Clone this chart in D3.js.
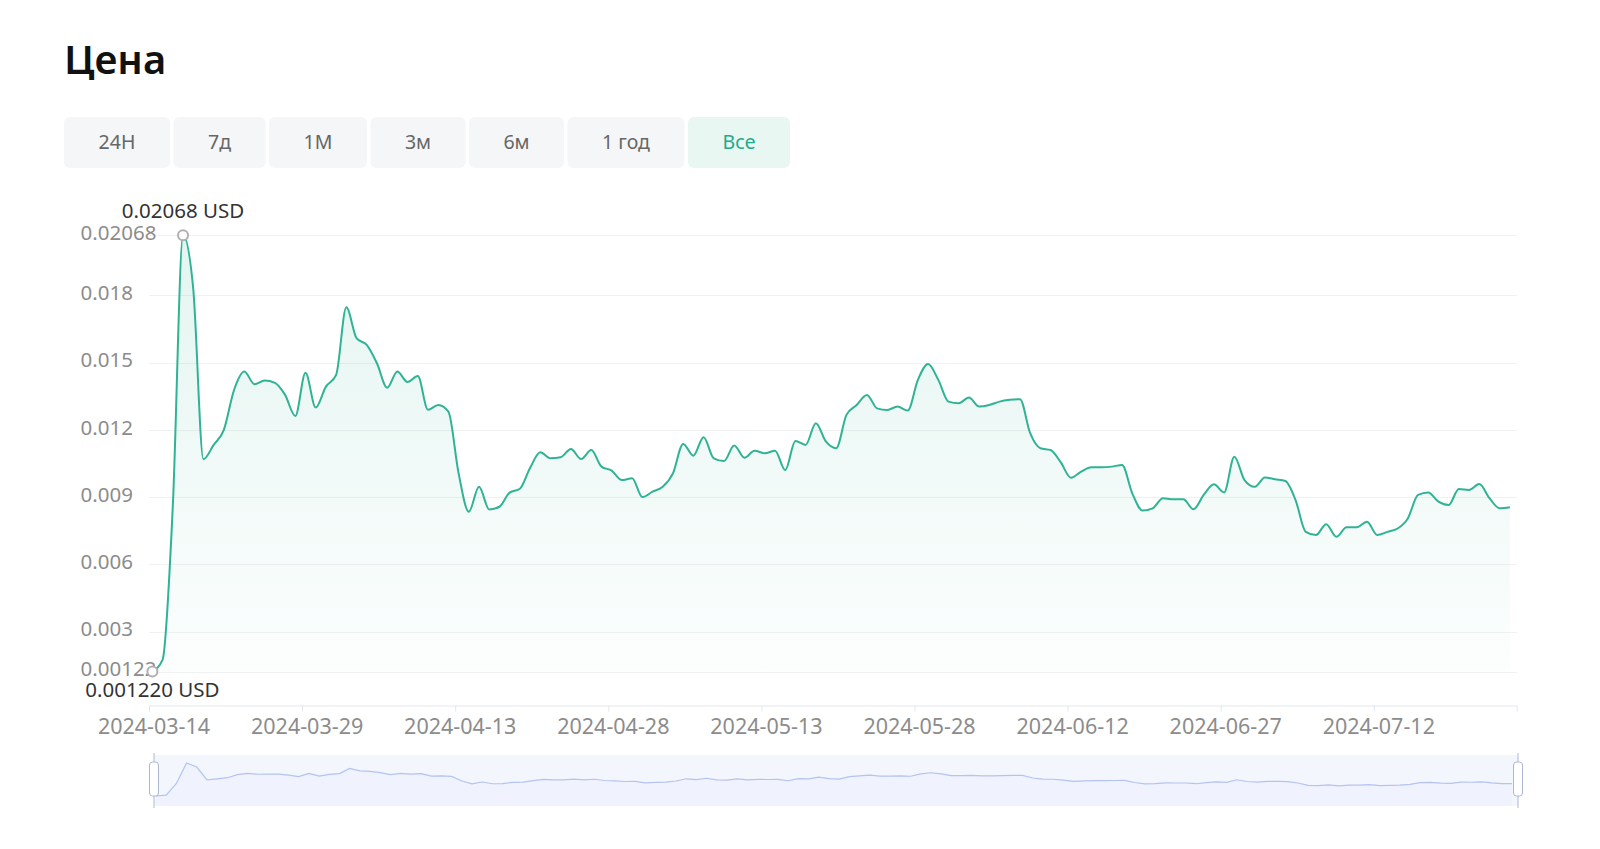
<!DOCTYPE html>
<html>
<head>
<meta charset="utf-8">
<script src="https://cdn.jsdelivr.net/npm/d3@7"></script>
<style>
  html, body { margin: 0; padding: 0; background: #fff; }
  svg { display: block; }
  text { font-family: "Noto Sans", "Open Sans", sans-serif; }
</style>
</head>
<body>
<svg id="chart" width="1600" height="849"></svg>
<script>
// ---------------- data ----------------
const title = "Цена";
const rangeButtons = ["24H", "7д", "1M", "3м", "6м", "1 год", "Все"];
const activeButton = "Все";

const startDate = "2024-03-14";           // first daily observation
const axisEndDate = "2024-07-26";         // end of the time axis
const prices = [
  0.00122, 0.00175, 0.0086, 0.02068, 0.0183, 0.01069, 0.01133, 0.0120, 0.01378, 0.0146,
  0.01404, 0.0142, 0.0141, 0.01356, 0.01262, 0.01455, 0.0130, 0.01393, 0.01445, 0.01747,
  0.01609, 0.01579, 0.01497, 0.01388, 0.0146, 0.01413, 0.0144, 0.0129, 0.01311, 0.01281,
  0.01006, 0.00835, 0.00946, 0.00845, 0.00857, 0.0092, 0.00937, 0.0103, 0.0110, 0.01073,
  0.01078, 0.01115, 0.0107, 0.0111, 0.01036, 0.01018, 0.00976, 0.00984, 0.0090, 0.00924,
  0.00946, 0.01006, 0.01137, 0.01085, 0.01167, 0.01073, 0.01061, 0.0113, 0.01076, 0.01107,
  0.01096, 0.01107, 0.01021, 0.0115, 0.01133, 0.0123, 0.01147, 0.01118, 0.01267, 0.01311,
  0.01356, 0.01296, 0.01289, 0.01304, 0.01286, 0.01423, 0.01494, 0.01423, 0.01326, 0.01319,
  0.01344, 0.01304, 0.01311, 0.01326, 0.01334, 0.01337, 0.01185, 0.01118, 0.0111, 0.01055,
  0.00986, 0.01014, 0.01033, 0.01033, 0.01036, 0.01043, 0.00917, 0.0084, 0.0085, 0.00895,
  0.0089, 0.0089, 0.00846, 0.0091, 0.00957, 0.00921, 0.0108, 0.00976, 0.00946, 0.00988,
  0.0098, 0.00972, 0.00887, 0.00745, 0.00731, 0.00779, 0.00723, 0.00765, 0.00765, 0.0079,
  0.00731, 0.00745, 0.0076, 0.00805, 0.0091, 0.00921, 0.0088, 0.00865, 0.00936, 0.00932,
  0.00958, 0.00895, 0.0085, 0.00855
];
const xTickLabels = ["2024-03-14", "2024-03-29", "2024-04-13", "2024-04-28", "2024-05-13",
                     "2024-05-28", "2024-06-12", "2024-06-27", "2024-07-12"];
const yTickValues = [0.00122, 0.003, 0.006, 0.009, 0.012, 0.015, 0.018, 0.02068];
const yTickLabels = ["0.00122", "0.003", "0.006", "0.009", "0.012", "0.015", "0.018", "0.02068"];
const currency = "USD";

// ---------------- build ----------------
const parse = d3.timeParse("%Y-%m-%d");
const start = parse(startDate);
const series = prices.map((v, i) => ({ date: d3.timeHour.offset(d3.timeDay.offset(start, i), 8), value: v }));

const svg = d3.select("#chart");
const C = { teal: "#2fb394", grey: "#8c8c8c" };

// title
svg.append("text").attr("x", 64).attr("y", 74)
  .attr("font-size", 40).attr("font-weight", 600).attr("fill", "#111")
  .text(title);

// range buttons
const btnG = svg.append("g").attr("transform", "translate(64,117)");
let bx = 0;
rangeButtons.forEach(label => {
  const g = btnG.append("g");
  const isActive = label === activeButton;
  const t = g.append("text").attr("y", 32).attr("font-size", 19.5)
    .attr("fill", isActive ? "#22aa8a" : "#666").attr("text-anchor", "middle").text(label);
  const tw = t.node().getComputedTextLength();
  const w = Math.round(tw + 69);
  g.insert("rect", "text").attr("x", 0).attr("y", 0).attr("width", w).attr("height", 51)
    .attr("rx", 6).attr("fill", isActive ? "#e8f7f2" : "#f5f6f7");
  t.attr("x", w / 2);
  g.attr("transform", `translate(${bx},0)`);
  bx += w + 3.5;
});

// scales
const x = d3.scaleTime().domain([start, parse(axisEndDate)]).range([149, 1516.7]);
const y = d3.scaleLinear().domain([yTickValues[0], yTickValues[yTickValues.length - 1]]).range([671.5, 235.3]);

// grid
svg.append("g").selectAll("line").data(yTickValues).join("line")
  .attr("x1", 149).attr("x2", 1516.7)
  .attr("y1", d => Math.round(y(d)) + 0.5).attr("y2", d => Math.round(y(d)) + 0.5)
  .attr("stroke", "#f0f1f3").attr("stroke-width", 1);

// y labels
const yAxis = d3.axisLeft(y).tickValues(yTickValues).tickSize(0)
  .tickFormat((d, i) => yTickLabels[i]);
const yg = svg.append("g").attr("transform", "translate(80.6,-2)").call(yAxis);
yg.select(".domain").remove();
yg.selectAll("text").attr("x", 0).attr("text-anchor", "start").attr("dy", "0.3em")
  .attr("font-size", 20.5).attr("fill", C.grey).attr("font-family", '"Noto Sans", sans-serif');

// gradient
const defs = svg.append("defs");
const grad = defs.append("linearGradient").attr("id", "areaGrad")
  .attr("gradientUnits", "userSpaceOnUse").attr("x1", 0).attr("x2", 0)
  .attr("y1", y.range()[1]).attr("y2", y.range()[0]);
grad.append("stop").attr("offset", 0).attr("stop-color", C.teal).attr("stop-opacity", 0.13);
grad.append("stop").attr("offset", 1).attr("stop-color", C.teal).attr("stop-opacity", 0.015);

const area = d3.area().x(d => x(d.date)).y0(y.range()[0]).y1(d => y(d.value)).curve(d3.curveMonotoneX);
const line = d3.line().x(d => x(d.date)).y(d => y(d.value)).curve(d3.curveMonotoneX);
svg.append("path").datum(series).attr("d", area).attr("fill", "url(#areaGrad)");
svg.append("path").datum(series).attr("d", line).attr("fill", "none")
  .attr("stroke", C.teal).attr("stroke-width", 2).attr("stroke-linejoin", "round");

// x axis
const xTicks = xTickLabels.map(parse);
const xAxis = d3.axisBottom(x).tickValues(xTicks).tickSize(6).tickSizeOuter(6)
  .tickFormat(d3.timeFormat("%Y-%m-%d"));
const xg = svg.append("g").attr("transform", "translate(0,705.5)").call(xAxis);
xg.select(".domain").attr("stroke", "#e3e6ec");
xg.selectAll(".tick line").attr("stroke", "#e3e6ec");
xg.selectAll(".tick text").attr("dx", 4.5).attr("dy", 0).attr("y", 28)
  .attr("font-size", 21.5).attr("fill", C.grey).attr("font-family", '"Noto Sans", sans-serif');

// max / min markers
const fmt = d3.format(".4r");
const maxPt = series.reduce((a, b) => (b.value > a.value ? b : a));
const minPt = series.reduce((a, b) => (b.value < a.value ? b : a));
[maxPt, minPt].forEach(p => {
  svg.append("circle").attr("cx", x(p.date)).attr("cy", y(p.value)).attr("r", 5)
    .attr("fill", "#fff").attr("stroke", "#b0b0b0").attr("stroke-width", 2);
});
svg.append("text").attr("x", x(maxPt.date)).attr("y", 218).attr("text-anchor", "middle")
  .attr("font-size", 20.5).attr("fill", "#333").text(`${fmt(maxPt.value)} ${currency}`);
svg.append("text").attr("x", x(minPt.date)).attr("y", 697).attr("text-anchor", "middle")
  .attr("font-size", 20.5).attr("fill", "#333").text(`${fmt(minPt.value)} ${currency}`);

// data zoom slider
const sl = { x0: 154, x1: 1518, y0: 755, y1: 806 };
svg.append("rect").attr("x", sl.x0).attr("y", sl.y0).attr("width", sl.x1 - sl.x0).attr("height", sl.y1 - sl.y0)
  .attr("fill", "#f4f6fd");
const mx = d3.scaleTime().domain(d3.extent(series, d => d.date)).range([156, 1512]);
const my = d3.scaleLinear().domain(y.domain()).range([796, 763]);
svg.append("path").datum(series)
  .attr("d", d3.area().x(d => mx(d.date)).y0(sl.y1).y1(d => my(d.value)))
  .attr("fill", "#8fb0f7").attr("fill-opacity", 0.04);
svg.append("path").datum(series)
  .attr("d", d3.line().x(d => mx(d.date)).y(d => my(d.value)))
  .attr("fill", "none").attr("stroke", "#b3c3f2").attr("stroke-width", 1.2);
[sl.x0, sl.x1].forEach(hx => {
  svg.append("line").attr("x1", hx).attr("x2", hx).attr("y1", sl.y0 - 2).attr("y2", sl.y1 + 2)
    .attr("stroke", "#acb8d1").attr("stroke-width", 1);
  svg.append("rect").attr("x", hx - 4.5).attr("y", 762).attr("width", 9).attr("height", 34)
    .attr("rx", 3).attr("fill", "#fff").attr("stroke", "#acb8d1").attr("stroke-width", 1);
});
</script>
</body>
</html>
